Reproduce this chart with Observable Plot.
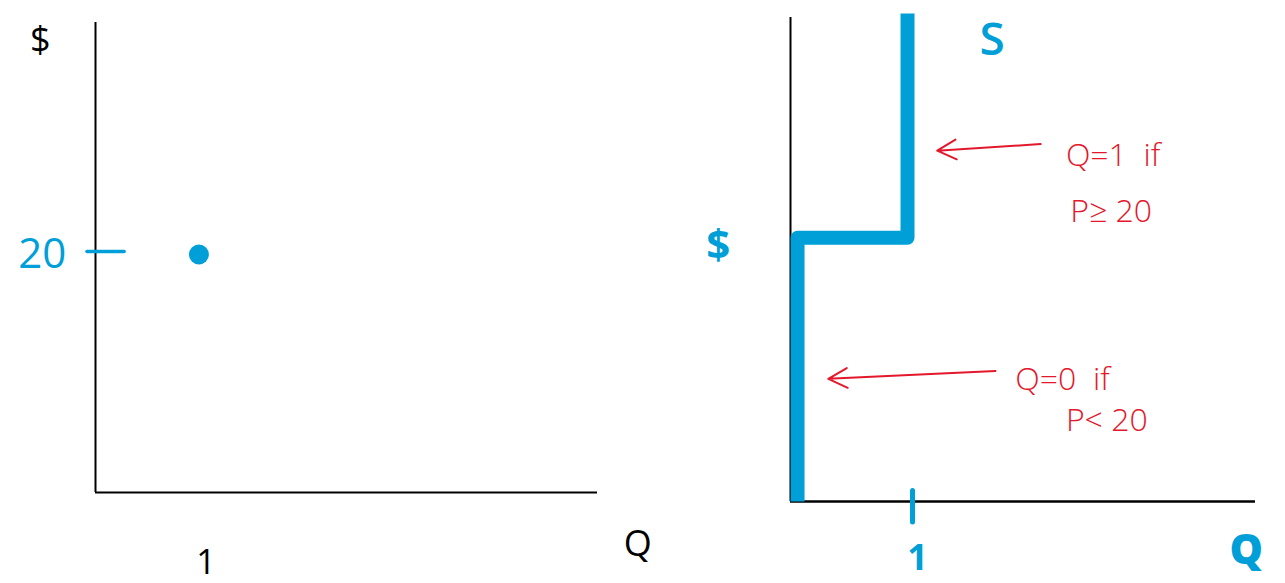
<!DOCTYPE html>
<html>
<head>
<meta charset="utf-8">
<script src="https://cdn.jsdelivr.net/npm/d3@7"></script>
<script src="https://cdn.jsdelivr.net/npm/@observablehq/plot@0.6"></script>
<style>
  html, body { margin: 0; padding: 0; background: #fff; }
  #wrap { position: relative; width: 1285px; height: 583px; overflow: hidden; }
  #wrap svg { position: absolute; top: 0; overflow: visible; }
</style>
</head>
<body>
<div id="wrap"></div>
<script>
// Single seller's offer: one unit at a price of 20
const offerQty = [1];
const offerPrice = [20];

// Resulting supply schedule (step): Q=0 below 20, Q=1 at 20 and above
const supplyQty = [0, 0, 1, 1];
const supplyPrice = [0, 20, 20, 37];

// Tick values
const priceTicks = [20];
const qtyTicks = [1];

// Notes on the supply curve
const noteLines = ["Q=1  if", "P≥ 20", "Q=0  if", "P< 20"];

const blue = "#009fd8";
const red = "#e3182c";
const ink = "#000";
const sans = "'Open Sans', 'Noto Sans', sans-serif";

const offer = offerQty.map((q, i) => ({q, p: offerPrice[i]}));
const supply = supplyQty.map((q, i) => ({q, p: supplyPrice[i]}));

// ---------- left panel: the single offer as a point ----------
const L = {xMin: 0, xMax: 5, yMin: 0, yMax: 39.5};
const left = Plot.plot({
  width: 680, height: 583,
  marginLeft: 95, marginRight: 83, marginTop: 22, marginBottom: 91,
  x: {domain: [L.xMin, L.xMax], axis: null},
  y: {domain: [L.yMin, L.yMax], axis: null},
  style: {background: "transparent", overflow: "visible"},
  marks: [
    Plot.ruleX([L.xMin], {y1: L.yMin, y2: L.yMax, stroke: ink, strokeWidth: 2}),
    Plot.ruleY([L.yMin], {x1: L.xMin, x2: L.xMax, stroke: ink, strokeWidth: 2}),
    Plot.ruleY(priceTicks, {x1: -0.08, x2: 0.29, stroke: blue, strokeWidth: 3.5, strokeLinecap: "round", dy: -3}),
    Plot.text(priceTicks, {x: -0.53, y: d => d, text: d => String(d), fill: blue, fontSize: 42, fontFamily: sans, fontWeight: 500, letterSpacing: 3}),
    Plot.dot(offer, {x: "q", y: "p", r: 10, fill: blue, dx: 3}),
    Plot.text(qtyTicks, {x: d => d, y: -5.9, text: d => String(d), fill: ink, fontSize: 34, fontFamily: sans, dx: 10}),
    Plot.text(["$"], {x: -0.55, y: 38.0, text: d => d, fill: ink, fontSize: 36, fontFamily: sans}),
    Plot.text(["Q"], {x: 5.4, y: -4.4, text: d => d, fill: ink, fontSize: 36, fontFamily: sans})
  ]
});

// ---------- right panel: the step supply curve ----------
const R = {xMin: -0.064, xMax: 4.164, yMin: 0, yMax: 36.7};
const right = Plot.plot({
  width: 605, height: 583,
  marginLeft: 110, marginRight: 30, marginTop: 17, marginBottom: 82,
  x: {domain: [R.xMin, R.xMax], axis: null},
  y: {domain: [R.yMin, R.yMax], axis: null},
  style: {background: "transparent", overflow: "visible"},
  marks: [
    Plot.ruleX([R.xMin], {y1: R.yMin, y2: R.yMax, stroke: ink, strokeWidth: 2}),
    Plot.ruleY([R.yMin], {x1: R.xMin, x2: R.xMax, stroke: ink, strokeWidth: 2.5}),
    Plot.line(supply, {x: "q", y: "p", stroke: blue, strokeWidth: 14, strokeLinejoin: "round", strokeLinecap: "butt"}),
    Plot.ruleX(qtyTicks, {y1: 0.8, y2: -1.6, stroke: blue, strokeWidth: 5, strokeLinecap: "round", dx: 5}),
    Plot.text(qtyTicks, {x: d => d, y: -4.3, text: d => String(d), fill: blue, fontSize: 36, fontWeight: 700, fontFamily: sans, dx: 10}),
    Plot.text(["S"], {x: 1.77, y: 35.0, text: d => d, fill: blue, fontSize: 46, fontWeight: 600, fontFamily: sans}),
    Plot.text(["$"], {x: -0.72, y: 19.4, text: d => d, fill: blue, fontSize: 42, fontWeight: 700, fontFamily: sans}),
    Plot.text(["Q"], {x: 4.08, y: -3.7, text: d => d, fill: blue, fontSize: 42, fontWeight: 800, fontFamily: sans}),
    // arrows pointing to each segment of the curve
    Plot.arrow([{x1: 2.21, y1: 27.1, x2: 1.27, y2: 26.6}, {x1: 1.80, y1: 9.9, x2: 0.28, y2: 9.3}], {
      x1: "x1", y1: "y1", x2: "x2", y2: "y2", bend: 0, stroke: red, strokeWidth: 2, headLength: 16, headAngle: 55
    }),
    Plot.text(noteLines, {
      x: (d, i) => [2.44, 2.48, 1.98, 2.44][i],
      y: (d, i) => [26.2, 22.0, 9.2, 6.1][i],
      text: d => d, textAnchor: "start", fill: red, fontSize: 32, fontWeight: 300, fontFamily: sans, letterSpacing: 3
    })
  ]
});

const wrap = document.getElementById("wrap");
left.style.left = "0px";
right.style.left = "680px";
wrap.appendChild(left);
wrap.appendChild(right);
</script>
</body>
</html>
